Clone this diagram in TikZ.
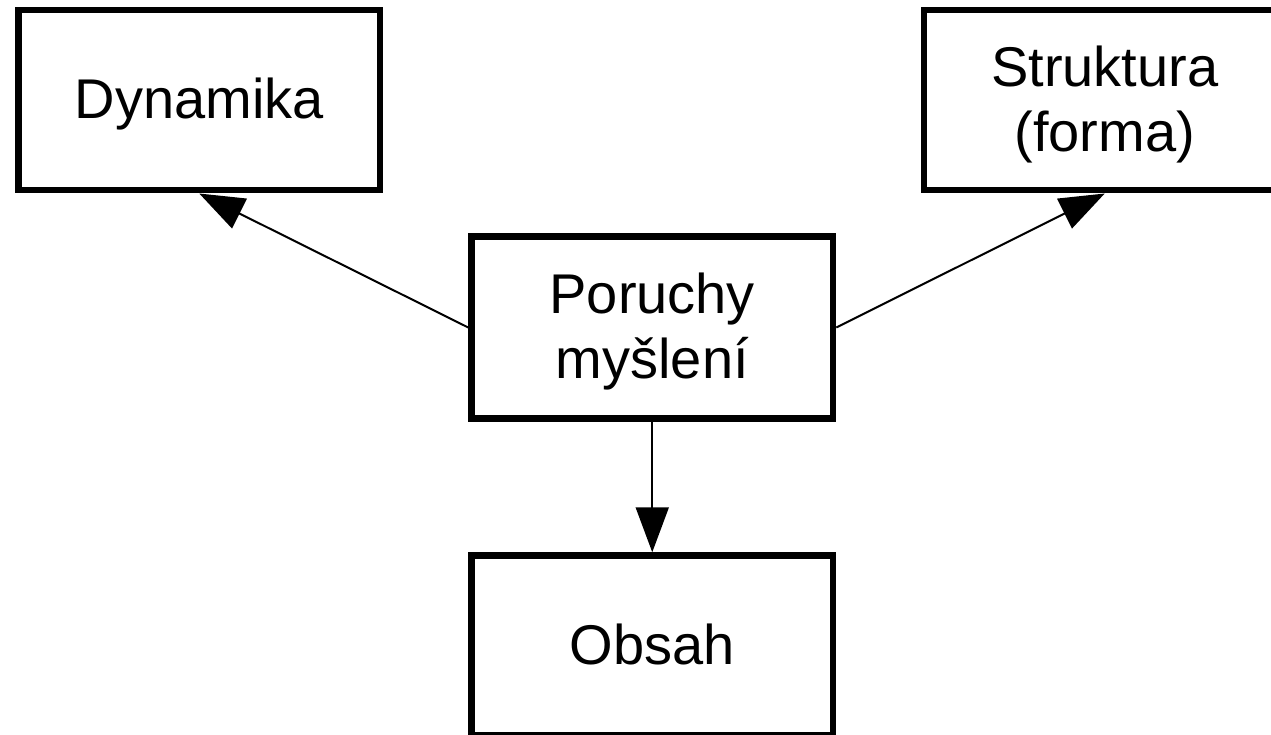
\documentclass[tikz,border=0pt]{standalone}
\usepackage{fontspec}
\setmainfont{Liberation Sans}
\usetikzlibrary{arrows.meta}
\newcommand\boxlbl[1]{\raisebox{0pt}[\dimexpr\height+11pt\relax][\depth]{\begin{tabular}{@{}c@{}}#1\end{tabular}}}
\begin{document}
\begin{tikzpicture}[x=1pt,y=-1pt,
  box/.style={draw=black,line width=6.5pt,minimum width=361.5pt,minimum height=180pt,
    inner sep=0pt,font=\fontsize{56}{65}\selectfont},
  conn/.style={draw=black,line width=2pt,-{Triangle[length=45pt,width=33pt]}}]
\useasboundingbox (0,0) rectangle (1271,735);
\node[box] (dyn) at (199.25,100.25) {\boxlbl{Dynamika}};
\node[box] (str) at (1104.75,100.25) {\boxlbl{Struktura\\(forma)}};
\node[box,minimum height=182pt] (por) at (652.25,327.5) {\boxlbl{Poruchy\\myšlení}};
\node[box] (obs) at (652.25,645.5) {\boxlbl{Obsah}};
\draw[conn] (por.west) -- (dyn.south);
\draw[conn] (por.east) -- (str.south);
\draw[conn] (por.south) -- (obs.north);
\end{tikzpicture}
\end{document}
